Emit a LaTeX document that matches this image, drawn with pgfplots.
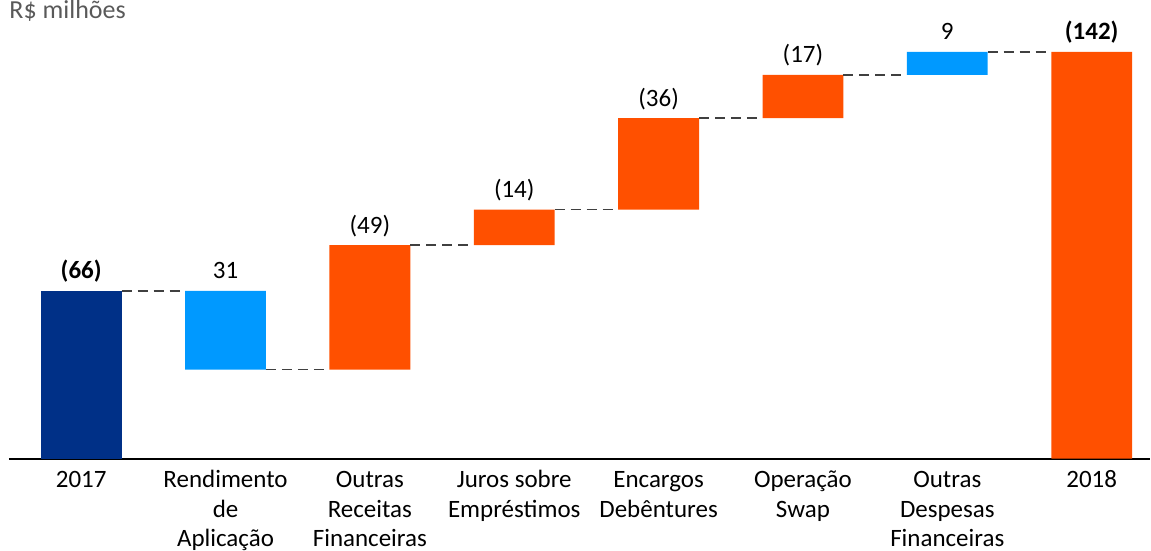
\documentclass[border=0pt]{standalone}
\usepackage{fontspec}
\setmainfont{Carlito}
\usepackage{pgfplots}
\pgfplotsset{compat=1.18}
\definecolor{navybar}{RGB}{0,48,135}
\definecolor{bluebar}{RGB}{0,153,255}
\definecolor{orangebar}{RGB}{255,80,0}
\definecolor{dashgray}{RGB}{64,64,64}
\definecolor{titlegray}{RGB}{89,89,89}

\begin{document}
\begin{tikzpicture}
\pgfplotsset{
  wf/.style={
    width=456.8pt, height=183.2pt, scale only axis,
    xmin=-0.5, xmax=7.405, ymin=0, ymax=180,
  },
}
% bars: invisible base + visible segments
\begin{axis}[wf, name=main,
    ybar stacked, bar width=0.56,
    axis x line*=bottom, axis y line=none,
    x axis line style={-, line width=0.7pt},
    ytick=\empty,
    xtick={0,1,2,3,4,5,6,7},
    xticklabels={\strut 2017, \strut Rendimento\\de\\Aplicação, \strut Outras\\Receitas\\Financeiras,
      \strut Juros sobre\\Empréstimos, \strut Encargos\\Debêntures, \strut Operação\\Swap,
      \strut Outras\\Despesas\\Financeiras, \strut 2018},
    major tick length=0pt,
    xticklabel style={align=center, anchor=north, inner sep=0pt, yshift=-3.1pt,
      font=\fontsize{10}{11.8}\selectfont},
  ]
  \addplot[draw=none, fill=none] coordinates {
    (0,0) (1,35) (2,35) (3,84) (4,98) (5,134) (6,151) (7,0)};
  \addplot[draw=none, fill=navybar] coordinates {
    (0,66) (1,0) (2,0) (3,0) (4,0) (5,0) (6,0) (7,0)};
  \addplot[draw=none, fill=bluebar] coordinates {
    (0,0) (1,31) (2,0) (3,0) (4,0) (5,0) (6,9) (7,0)};
  \addplot[draw=none, fill=orangebar] coordinates {
    (0,0) (1,0) (2,49) (3,14) (4,36) (5,17) (6,0) (7,160)};
\end{axis}
% connectors and value labels
\begin{axis}[wf, hide axis, unbounded coords=jump, clip=false]
  \addplot[dashgray, line width=0.6pt, dash pattern=on 4pt off 2.4pt] coordinates {
    (0.28,66) (0.72,66) (nan,nan)
    (1.28,35) (1.72,35) (nan,nan)
    (2.28,84) (2.72,84) (nan,nan)
    (3.28,98) (3.72,98) (nan,nan)
    (4.28,134) (4.72,134) (nan,nan)
    (5.28,151) (5.72,151) (nan,nan)
    (6.28,160) (6.72,160)};
  \addplot[draw=none, nodes near coords, point meta=explicit symbolic,
    nodes near coords style={anchor=base, inner sep=0pt, yshift=4.8pt,
      font=\fontsize{10}{12}\selectfont, text=black}] coordinates {
    (0,66) [\textbf{(66)}]
    (1,66) [31]
    (2,84) [(49)]
    (3,98) [(14)]
    (4,134) [(36)]
    (5,151) [(17)]
    (6,160) [9]
    (7,160) [\textbf{(142)}]};
  \node[anchor=base west, inner sep=0pt, yshift=-6.8pt, text=titlegray,
    font=\fontsize{10.4}{12}\selectfont] at (rel axis cs:0,1) {R\$ milhões};
\end{axis}
\path[use as bounding box] ([shift={(-3.6pt,-35.2pt)}]main.south west)
  rectangle ++(460.4pt,218.4pt);
\end{tikzpicture}
\end{document}
